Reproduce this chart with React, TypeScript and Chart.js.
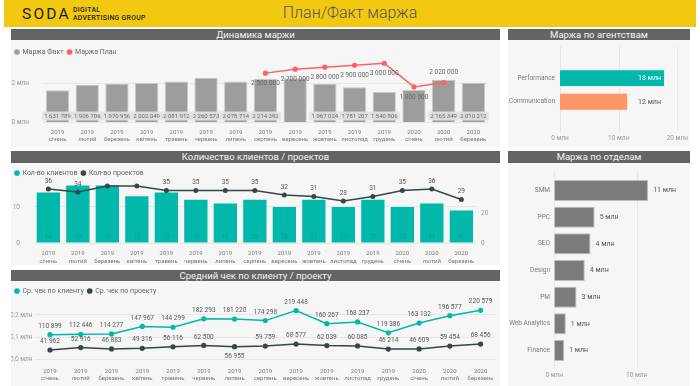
import React, { useEffect, useRef } from 'react';
import { Chart, registerables } from 'chart.js';

Chart.register(...registerables);

const FONT = "Roboto, 'Noto Sans', sans-serif";
Chart.defaults.font.family = FONT;

// ---------- data ----------
const years = ['2019', '2019', '2019', '2019', '2019', '2019', '2019', '2019', '2019', '2019', '2019', '2019', '2020', '2020', '2020'];
const months = ['січень', 'лютий', 'березень', 'квітень', 'травень', 'червень', 'липень', 'серпень', 'вересень', 'жовтень', 'листопад', 'грудень', 'січень', 'лютий', 'березень'];

const marginFact = [1631789, 1906706, 1970956, 2002049, 2081912, 2260573, 2078714, 2214392, 2241000, 1967024, 1781207, 1540806, 1650000, 2165349, 2010212];
const marginPlan = [null, null, null, null, null, null, null, 2500000, 2700000, 2800000, 2900000, 3000000, 1800000, 2020000, null];
const factLabelHidden = [8, 12];
const planLabelAbove = [13];

const clientCount = [14, 16, 16, 13, 14, 12, 11, 12, 10, 12, 10, 12, 10, 11, 9];
const projectCount = [36, 34, 38, 38, 35, 35, 35, 35, 32, 31, 28, 31, 35, 36, 29];
const projectLabelHidden = [2, 3];

const avgPerClient = [110899, 112446, 114277, 147967, 144299, 182293, 181220, 174298, 219448, 160267, 168237, 119386, 163132, 196577, 220579];
const avgPerProject = [41962, 52916, 46883, 49316, 56116, 62500, 56955, 59759, 68577, 62039, 60085, 46214, 46609, 59454, 68456];
const avgProjectLabelBelow = [6];

const agencies = ['Performance', 'Communication'];
const agencyMargin = [17900000, 11600000];

const departments = ['SMM', 'PPC', 'SEO', 'Design', 'PM', 'Web Analytics', 'Finance'];
const departmentMargin = [11400000, 4900000, 4400000, 3700000, 2700000, 1400000, 1200000];

const marginTicks = [0, 2000000];
const clientTicks = [0, 10];
const projectTicks = [0, 20];
const avgTicks = [0, 100000, 200000];
const agencyTicks = [0, 10000000, 20000000];
const departmentTicks = [0, 10000000];

// ---------- style ----------
const TEAL = '#01B8AA';
const DARK = '#374649';
const RED = '#FD625E';
const SALMON = '#FE9666';
const GREY_BAR = '#9d9d9d';
const DEPT_BAR = '#7b7b7b';
const GRID = '#e6e6e6';

const categories = years.map((y, i) => [y, months[i]]);

const fmtNum = (v: number) => String(Math.round(v)).replace(/\B(?=(\d{3})+(?!\d))/g, ' ');
const fmtMln = (v: number) => `${Math.round(v / 1e6)} млн`;
const fmtMln1 = (v: number) => `${(v / 1e6).toFixed(1).replace('.', ',')} млн`;

const setTicks = (vals: number[]) => (s: any) => {
  s.ticks = vals.map((v) => ({ value: v }));
};

const legendOpts = (maxH: number) => ({
  display: true,
  position: 'top',
  align: 'start',
  maxHeight: maxH,
  labels: {
    usePointStyle: true,
    pointStyle: 'circle',
    boxWidth: 4,
    boxHeight: 4,
    padding: 4,
    font: { size: 7 },
    color: '#666',
    sort: (a: any, b: any) => a.datasetIndex - b.datasetIndex,
    generateLabels: (chart: any) =>
      (Chart.defaults.plugins.legend.labels as any)
        .generateLabels(chart)
        .map((l: any) => ({ ...l, strokeStyle: l.fillStyle, lineWidth: 0 })),
  },
});

// label gap is made with an (undrawn) tick length so that it does not shrink the plot area
const xCatAxis = (gap: number, height: number) => ({
  grid: { display: false, drawTicks: true, tickLength: gap },
  border: { display: false },
  offset: true,
  ticks: {
    autoSkip: false,
    maxRotation: 0,
    minRotation: 0,
    padding: 0,
    font: { size: 6, lineHeight: 1.3 },
    color: '#7a7a7a',
  },
  afterFit: (s: any) => {
    s.height = height;
  },
});

const vGrid = (top: number, bottom: number) => ({
  id: 'vGrid',
  beforeDatasetsDraw(chart: any) {
    const { ctx } = chart;
    const xs = chart.scales.x;
    ctx.save();
    ctx.strokeStyle = GRID;
    ctx.lineWidth = 1;
    xs.ticks.forEach((t: any) => {
      const px = Math.round(xs.getPixelForValue(t.value)) + 0.5;
      ctx.beginPath();
      ctx.moveTo(px, top);
      ctx.lineTo(px, bottom);
      ctx.stroke();
    });
    ctx.restore();
  },
});

// ---------- chart configs ----------
function marginConfig() {
  const labels = {
    id: 'marginLabels',
    afterDatasetsDraw(chart: any) {
      const { ctx } = chart;
      const zeroY = chart.scales.y.getPixelForValue(0);
      ctx.save();
      ctx.textAlign = 'center';
      ctx.textBaseline = 'middle';
      ctx.font = `6px ${FONT}`;
      chart.getDatasetMeta(0).data.forEach((el: any, i: number) => {
        if (factLabelHidden.includes(i)) return;
        const t = fmtNum(marginFact[i]);
        const tw = ctx.measureText(t).width + 5;
        const cy = zeroY - 6.5;
        ctx.fillStyle = 'rgba(226,226,226,0.92)';
        ctx.beginPath();
        ctx.roundRect(el.x - tw / 2, cy - 4.5, tw, 9, 2);
        ctx.fill();
        ctx.fillStyle = '#6a6a6a';
        ctx.fillText(t, el.x, cy + 0.5);
      });
      ctx.font = `6.5px ${FONT}`;
      chart.getDatasetMeta(1).data.forEach((el: any, i: number) => {
        const v = marginPlan[i];
        if (v == null) return;
        ctx.fillStyle = '#666';
        ctx.fillText(fmtNum(v), el.x, el.y + (planLabelAbove.includes(i) ? -10 : 10));
      });
      ctx.restore();
    },
  };
  return {
    type: 'bar',
    data: {
      labels: categories,
      datasets: [
        {
          type: 'bar',
          label: 'Маржа Факт',
          data: marginFact,
          backgroundColor: GREY_BAR,
          borderColor: '#c8c8c8',
          borderWidth: 1,
          barPercentage: 0.785,
          categoryPercentage: 1,
          order: 2,
        },
        {
          type: 'line',
          label: 'Маржа План',
          data: marginPlan,
          borderColor: RED,
          backgroundColor: RED,
          borderWidth: 1.5,
          pointRadius: 2.6,
          pointBorderWidth: 0,
          pointBackgroundColor: RED,
          order: 1,
        },
      ],
    },
    options: {
      responsive: false,
      animation: false,
      layout: { padding: { top: 4.5, right: 11.8, bottom: 0, left: 0 } },
      plugins: { legend: legendOpts(14.8), tooltip: { enabled: false } },
      scales: {
        x: xCatAxis(5.6, 24.5),
        y: {
          min: 0,
          max: 3200000,
          afterBuildTicks: setTicks(marginTicks),
          ticks: { callback: (v: any) => fmtMln(v), padding: 13.7, font: { size: 6.5 }, color: '#9a9a9a' },
          grid: { color: GRID, drawTicks: false },
          border: { display: false },
          afterFit: (s: any) => {
            s.width = 31.7;
          },
        },
      },
    },
    plugins: [labels],
  };
}

function countConfig() {
  const labels = {
    id: 'countLabels',
    afterDatasetsDraw(chart: any) {
      const { ctx } = chart;
      const zeroY = chart.scales.y.getPixelForValue(0);
      ctx.save();
      ctx.textAlign = 'center';
      ctx.textBaseline = 'middle';
      ctx.font = `6.5px ${FONT}`;
      chart.getDatasetMeta(0).data.forEach((el: any, i: number) => {
        ctx.fillStyle = 'rgba(0,90,80,0.35)';
        ctx.fillText(String(clientCount[i]), el.x, zeroY - 6);
      });
      chart.getDatasetMeta(1).data.forEach((el: any, i: number) => {
        if (projectLabelHidden.includes(i)) return;
        ctx.fillStyle = '#555';
        ctx.fillText(String(projectCount[i]), el.x, el.y - 8);
      });
      ctx.restore();
    },
  };
  return {
    type: 'bar',
    data: {
      labels: categories,
      datasets: [
        {
          type: 'bar',
          label: 'Кол-во клиентов',
          data: clientCount,
          backgroundColor: TEAL,
          barPercentage: 0.79,
          categoryPercentage: 1,
          yAxisID: 'y',
          order: 2,
        },
        {
          type: 'line',
          label: 'Кол-во проектов',
          data: projectCount,
          borderColor: DARK,
          backgroundColor: DARK,
          borderWidth: 1.5,
          pointRadius: 2.5,
          pointBorderWidth: 0,
          pointBackgroundColor: DARK,
          yAxisID: 'y1',
          order: 1,
        },
      ],
    },
    options: {
      responsive: false,
      animation: false,
      layout: { padding: { top: 2.5, right: 0, bottom: 0, left: 0 } },
      plugins: { legend: legendOpts(15.5), tooltip: { enabled: false } },
      scales: {
        x: xCatAxis(7, 22),
        y: {
          position: 'left',
          min: 0,
          max: 17.22,
          afterBuildTicks: setTicks(clientTicks),
          ticks: { padding: 13.6, font: { size: 6.5 }, color: '#9a9a9a' },
          grid: { color: GRID, drawTicks: false },
          border: { display: false },
          afterFit: (s: any) => {
            s.width = 22.6;
          },
        },
        y1: {
          position: 'right',
          min: 0,
          max: 41.3,
          afterBuildTicks: setTicks(projectTicks),
          ticks: { padding: 5, font: { size: 6.5 }, color: '#9a9a9a' },
          grid: { display: false, drawTicks: false },
          border: { display: false },
          afterFit: (s: any) => {
            s.width = 23.9;
          },
        },
      },
    },
    plugins: [labels],
  };
}

function avgConfig() {
  const labels = {
    id: 'avgLabels',
    afterDatasetsDraw(chart: any) {
      const { ctx } = chart;
      ctx.save();
      ctx.textAlign = 'center';
      ctx.textBaseline = 'middle';
      ctx.font = `6.5px ${FONT}`;
      ctx.fillStyle = '#555';
      chart.getDatasetMeta(0).data.forEach((el: any, i: number) => {
        ctx.fillText(fmtNum(avgPerClient[i]), el.x, el.y - 8.5);
      });
      chart.getDatasetMeta(1).data.forEach((el: any, i: number) => {
        const below = avgProjectLabelBelow.includes(i);
        ctx.fillText(fmtNum(avgPerProject[i]), el.x, el.y + (below ? 10 : -8.5));
      });
      ctx.restore();
    },
  };
  return {
    type: 'line',
    data: {
      labels: categories,
      datasets: [
        {
          label: 'Ср. чек по клиенту',
          data: avgPerClient,
          borderColor: TEAL,
          backgroundColor: TEAL,
          borderWidth: 1.5,
          pointRadius: 2.6,
          pointBorderWidth: 0,
          pointBackgroundColor: TEAL,
        },
        {
          label: 'Ср. чек по проекту',
          data: avgPerProject,
          borderColor: DARK,
          backgroundColor: DARK,
          borderWidth: 1.5,
          pointRadius: 2.6,
          pointBorderWidth: 0,
          pointBackgroundColor: DARK,
        },
      ],
    },
    options: {
      responsive: false,
      animation: false,
      layout: { padding: { top: 2.5, right: 2.5, bottom: 0, left: 0 } },
      plugins: { legend: legendOpts(14.5), tooltip: { enabled: false } },
      scales: {
        x: xCatAxis(7.8, 26.7),
        y: {
          min: 0,
          max: 276100,
          afterBuildTicks: setTicks(avgTicks),
          ticks: { callback: (v: any) => fmtMln1(v), padding: 2, font: { size: 6.5 }, color: '#9a9a9a' },
          grid: { color: GRID, drawTicks: false },
          border: { display: false },
          afterFit: (s: any) => {
            s.width = 23.6;
          },
        },
      },
    },
    plugins: [labels],
  };
}

function agencyConfig() {
  const labels = {
    id: 'agencyLabels',
    afterDatasetsDraw(chart: any) {
      const { ctx } = chart;
      ctx.save();
      ctx.textBaseline = 'middle';
      ctx.font = `7px ${FONT}`;
      chart.getDatasetMeta(0).data.forEach((el: any, i: number) => {
        const t = fmtMln(agencyMargin[i]);
        const w = el.x - el.base;
        if (w > 80) {
          ctx.textAlign = 'right';
          ctx.fillStyle = '#ffffff';
          ctx.fillText(t, el.x - 4, el.y);
        } else {
          ctx.textAlign = 'left';
          ctx.fillStyle = '#555';
          ctx.fillText(t, el.x + 10, el.y);
        }
      });
      ctx.restore();
    },
  };
  return {
    type: 'bar',
    data: {
      labels: agencies,
      datasets: [
        {
          label: 'Маржа',
          data: agencyMargin,
          backgroundColor: [TEAL, SALMON],
          borderColor: '#e9e9e9',
          borderWidth: 1,
          barPercentage: 0.75,
          categoryPercentage: 1,
        },
      ],
    },
    options: {
      indexAxis: 'y',
      responsive: false,
      animation: false,
      layout: { padding: { top: 26.2, right: 12.7, bottom: 0, left: 0 } },
      plugins: { legend: { display: false }, tooltip: { enabled: false } },
      scales: {
        x: {
          min: 0,
          max: 20000000,
          afterBuildTicks: setTicks(agencyTicks),
          ticks: { callback: (v: any) => fmtMln(v), padding: 0, font: { size: 6.5 }, color: '#9a9a9a' },
          grid: { display: false, drawTicks: true, tickLength: 20.5 },
          border: { display: false },
          afterFit: (s: any) => {
            s.height = 33.4;
          },
        },
        y: {
          grid: { display: false, drawTicks: false },
          border: { display: false },
          ticks: { padding: 5, font: { size: 6.5 }, color: '#7a7a7a' },
          afterFit: (s: any) => {
            s.width = 52;
          },
        },
      },
    },
    plugins: [vGrid(6.7, 93), labels],
  };
}

function departmentConfig() {
  const labels = {
    id: 'deptLabels',
    afterDatasetsDraw(chart: any) {
      const { ctx } = chart;
      ctx.save();
      ctx.textBaseline = 'middle';
      ctx.textAlign = 'left';
      ctx.font = `7px ${FONT}`;
      ctx.fillStyle = '#555';
      chart.getDatasetMeta(0).data.forEach((el: any, i: number) => {
        ctx.fillText(fmtMln(departmentMargin[i]), el.x + 5, el.y);
      });
      ctx.restore();
    },
  };
  return {
    type: 'bar',
    data: {
      labels: departments,
      datasets: [
        {
          label: 'Маржа',
          data: departmentMargin,
          backgroundColor: DEPT_BAR,
          borderColor: '#bdbdbd',
          borderWidth: 1,
          barPercentage: 0.79,
          categoryPercentage: 1,
        },
      ],
    },
    options: {
      indexAxis: 'y',
      responsive: false,
      animation: false,
      layout: { padding: { top: 14.2, right: 4, bottom: 0, left: 0 } },
      plugins: { legend: { display: false }, tooltip: { enabled: false } },
      scales: {
        x: {
          min: 0,
          max: 16000000,
          afterBuildTicks: setTicks(departmentTicks),
          ticks: { callback: (v: any) => fmtMln(v), padding: 0, font: { size: 6.5 }, color: '#9a9a9a' },
          grid: { display: false, drawTicks: true, tickLength: 7.3 },
          border: { display: false },
          afterFit: (s: any) => {
            s.height = 22.2;
          },
        },
        y: {
          grid: { display: false, drawTicks: false },
          border: { display: false },
          ticks: { padding: 4.3, font: { size: 6.5 }, color: '#7a7a7a' },
          afterFit: (s: any) => {
            s.width = 46.3;
          },
        },
      },
    },
    plugins: [vGrid(7, 205), labels],
  };
}

// ---------- components ----------
function ChartCanvas({ x, y, w, h, make }: { x: number; y: number; w: number; h: number; make: () => any }) {
  const ref = useRef<HTMLCanvasElement | null>(null);
  useEffect(() => {
    if (!ref.current) return;
    const chart = new Chart(ref.current, make());
    return () => chart.destroy();
  }, []);
  return (
    <canvas
      ref={ref}
      width={w}
      height={h}
      style={{ position: 'absolute', left: x, top: y, width: w, height: h, display: 'block' }}
    />
  );
}

function Panel({ x, y, w, h, title, th }: { x: number; y: number; w: number; h: number; title: string; th: number }) {
  return (
    <>
      <div style={{ position: 'absolute', left: x, top: y, width: w, height: h, background: '#f6f6f6' }} />
      <div
        style={{
          position: 'absolute',
          left: x,
          top: y,
          width: w,
          height: th,
          background: '#646464',
          color: '#f4f4f4',
          fontSize: 9.5,
          lineHeight: `${th}px`,
          textAlign: 'center',
          whiteSpace: 'nowrap',
        }}
      >
        {title}
      </div>
    </>
  );
}

export default function App() {
  return (
    <div
      style={{
        position: 'fixed',
        left: 0,
        top: 0,
        width: 700,
        height: 386,
        background: '#ffffff',
        overflow: 'hidden',
        fontFamily: FONT,
      }}
    >
      <div style={{ position: 'absolute', left: 4, top: 0, width: 692, height: 27, background: '#F2C811' }} />
      <div
        style={{
          position: 'absolute',
          left: 22,
          top: 5,
          fontSize: 15.5,
          letterSpacing: 2.2,
          color: '#1b1b1b',
          lineHeight: '18px',
        }}
      >
        SODA
      </div>
      <div
        style={{
          position: 'absolute',
          left: 73,
          top: 7,
          fontSize: 6.8,
          fontWeight: 500,
          lineHeight: '7.5px',
          letterSpacing: 0.35,
          color: '#1b1b1b',
          whiteSpace: 'nowrap',
        }}
      >
        DIGITAL
        <br />
        ADVERTISING GROUP
      </div>
      <div
        style={{
          position: 'absolute',
          left: 0,
          top: 3,
          width: 700,
          textAlign: 'center',
          fontSize: 16,
          fontWeight: 300,
          color: '#555',
          lineHeight: '20px',
        }}
      >
        План/Факт маржа
      </div>

      <Panel x={11} y={29} w={489} h={118} th={11} title="Динамика маржи" />
      <Panel x={11} y={151} w={489} h={114} th={12} title="Количество клиентов / проектов" />
      <Panel x={11} y={270} w={489} h={116} th={11} title="Средний чек по клиенту / проекту" />
      <Panel x={508} y={29} w={182} h={118} th={11} title="Маржа по агентствам" />
      <Panel x={508} y={151} w={182} h={235} th={12} title="Маржа по отделам" />

      <ChartCanvas x={11} y={40} w={489} h={107} make={marginConfig} />
      <ChartCanvas x={11} y={163} w={489} h={102} make={countConfig} />
      <ChartCanvas x={11} y={281} w={489} h={105} make={avgConfig} />
      <ChartCanvas x={508} y={40} w={182} h={107} make={agencyConfig} />
      <ChartCanvas x={508} y={163} w={182} h={223} make={departmentConfig} />
    </div>
  );
}
